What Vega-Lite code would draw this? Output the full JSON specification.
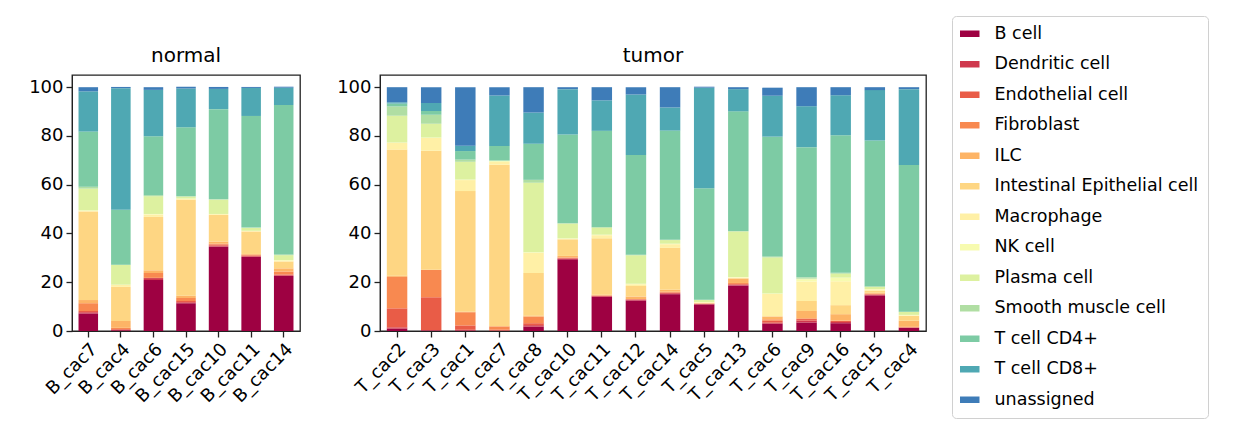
{
"$schema":"https://vega.github.io/schema/vega-lite/v6.json",
"background":"white",
"padding":{"left":27,"top":15,"right":0,"bottom":0},
"config":{"font":"DejaVu Sans","view":{"stroke":"#222","strokeWidth":1.3},
"axis":{"labelFont":"DejaVu Sans","labelFontSize":18,"labelColor":"#000","domainColor":"#222","tickColor":"#222","tickSize":6,"tickWidth":1.3,"labelPadding":3,"grid":false,"title":null},
"title":{"fontSize":20,"fontWeight":"normal","font":"DejaVu Sans","offset":9,"color":"#000"},
"concat":{"spacing":34}},
"datasets":{"d":[
{"s":"B_cac7","g":"normal","B cell":7.2,"Dendritic cell":0.5,"Endothelial cell":0.5,"Fibroblast":3.2,"ILC":1.3,"Intestinal Epithelial cell":36.3,"Macrophage":0.3,"NK cell":0.2,"Plasma cell":8.9,"Smooth muscle cell":0.8,"T cell CD4+":22.6,"T cell CD8+":16.5,"unassigned":1.7},
{"s":"B_cac4","g":"normal","B cell":0.3,"Dendritic cell":0.2,"Endothelial cell":0.3,"Fibroblast":0.5,"ILC":2.8,"Intestinal Epithelial cell":14,"Macrophage":0.9,"NK cell":0,"Plasma cell":8.1,"Smooth muscle cell":0.1,"T cell CD4+":22.5,"T cell CD8+":49.9,"unassigned":0.5},
{"s":"B_cac6","g":"normal","B cell":20.9,"Dendritic cell":0.8,"Endothelial cell":0.1,"Fibroblast":2.0,"ILC":1.1,"Intestinal Epithelial cell":21.9,"Macrophage":1.0,"NK cell":0.2,"Plasma cell":7.3,"Smooth muscle cell":0.4,"T cell CD4+":24.2,"T cell CD8+":19,"unassigned":1.1},
{"s":"B_cac15","g":"normal","B cell":11.4,"Dendritic cell":0.4,"Endothelial cell":0.5,"Fibroblast":1.2,"ILC":1.0,"Intestinal Epithelial cell":39.3,"Macrophage":0.3,"NK cell":0.2,"Plasma cell":0.9,"Smooth muscle cell":0.1,"T cell CD4+":28.3,"T cell CD8+":15.9,"unassigned":0.7},
{"s":"B_cac10","g":"normal","B cell":34.6,"Dendritic cell":0.4,"Endothelial cell":0.5,"Fibroblast":0.3,"ILC":0.9,"Intestinal Epithelial cell":10.9,"Macrophage":0.3,"NK cell":0.1,"Plasma cell":5.9,"Smooth muscle cell":0.1,"T cell CD4+":37,"T cell CD8+":8.3,"unassigned":0.8},
{"s":"B_cac11","g":"normal","B cell":30.4,"Dendritic cell":0.3,"Endothelial cell":0.3,"Fibroblast":0.3,"ILC":0.3,"Intestinal Epithelial cell":9.2,"Macrophage":0.2,"NK cell":0.1,"Plasma cell":1.2,"Smooth muscle cell":0.1,"T cell CD4+":45.8,"T cell CD8+":11.5,"unassigned":0.4},
{"s":"B_cac14","g":"normal","B cell":22.6,"Dendritic cell":0.3,"Endothelial cell":0.3,"Fibroblast":1.2,"ILC":1.3,"Intestinal Epithelial cell":2.8,"Macrophage":0.4,"NK cell":0.2,"Plasma cell":2.0,"Smooth muscle cell":0.3,"T cell CD4+":61.3,"T cell CD8+":7.1,"unassigned":0.4},
{"s":"T_cac2","g":"tumor","B cell":1.0,"Dendritic cell":0.5,"Endothelial cell":7.8,"Fibroblast":12.9,"ILC":0.5,"Intestinal Epithelial cell":51.7,"Macrophage":2.8,"NK cell":0.1,"Plasma cell":11,"Smooth muscle cell":3.8,"T cell CD4+":1.2,"T cell CD8+":0.5,"unassigned":6.2},
{"s":"T_cac3","g":"tumor","B cell":0.2,"Dendritic cell":0.2,"Endothelial cell":13.4,"Fibroblast":11.2,"ILC":0.1,"Intestinal Epithelial cell":48.8,"Macrophage":5.3,"NK cell":0.2,"Plasma cell":5.6,"Smooth muscle cell":3.7,"T cell CD4+":1.5,"T cell CD8+":3.3,"unassigned":6.5},
{"s":"T_cac1","g":"tumor","B cell":0.2,"Dendritic cell":0.3,"Endothelial cell":1.8,"Fibroblast":5.4,"ILC":0.2,"Intestinal Epithelial cell":49.5,"Macrophage":4.5,"NK cell":0.2,"Plasma cell":7.3,"Smooth muscle cell":0.9,"T cell CD4+":3.5,"T cell CD8+":2.2,"unassigned":24},
{"s":"T_cac7","g":"tumor","B cell":0.1,"Dendritic cell":0.1,"Endothelial cell":0.3,"Fibroblast":1.3,"ILC":0.3,"Intestinal Epithelial cell":66.1,"Macrophage":1.1,"NK cell":0.3,"Plasma cell":0.2,"Smooth muscle cell":0.1,"T cell CD4+":6.0,"T cell CD8+":20.7,"unassigned":3.4},
{"s":"T_cac8","g":"tumor","B cell":1.8,"Dendritic cell":0.6,"Endothelial cell":0.8,"Fibroblast":2.7,"ILC":0.4,"Intestinal Epithelial cell":17.5,"Macrophage":8.3,"NK cell":0.2,"Plasma cell":28.5,"Smooth muscle cell":1.2,"T cell CD4+":14.8,"T cell CD8+":12.8,"unassigned":10.4},
{"s":"T_cac10","g":"tumor","B cell":29.4,"Dendritic cell":0.3,"Endothelial cell":0.3,"Fibroblast":0.2,"ILC":0.6,"Intestinal Epithelial cell":6.8,"Macrophage":0.2,"NK cell":0.2,"Plasma cell":6.1,"Smooth muscle cell":0.1,"T cell CD4+":36.4,"T cell CD8+":18.6,"unassigned":0.8},
{"s":"T_cac11","g":"tumor","B cell":14.0,"Dendritic cell":0.3,"Endothelial cell":0.2,"Fibroblast":0.1,"ILC":0.3,"Intestinal Epithelial cell":23.1,"Macrophage":1.3,"NK cell":0.2,"Plasma cell":3.0,"Smooth muscle cell":0.1,"T cell CD4+":39.5,"T cell CD8+":12.5,"unassigned":5.4},
{"s":"T_cac12","g":"tumor","B cell":12.5,"Dendritic cell":0.3,"Endothelial cell":0.2,"Fibroblast":0.1,"ILC":1.1,"Intestinal Epithelial cell":4.3,"Macrophage":0.7,"NK cell":0.2,"Plasma cell":11.7,"Smooth muscle cell":0.2,"T cell CD4+":40.9,"T cell CD8+":24.8,"unassigned":3.0},
{"s":"T_cac14","g":"tumor","B cell":15.1,"Dendritic cell":0.4,"Endothelial cell":0.3,"Fibroblast":0.3,"ILC":0.8,"Intestinal Epithelial cell":17.2,"Macrophage":1.5,"NK cell":0.2,"Plasma cell":1.5,"Smooth muscle cell":0.1,"T cell CD4+":44.8,"T cell CD8+":9.5,"unassigned":8.3},
{"s":"T_cac5","g":"tumor","B cell":10.9,"Dendritic cell":0.2,"Endothelial cell":0.1,"Fibroblast":0.1,"ILC":0.1,"Intestinal Epithelial cell":0.2,"Macrophage":0.2,"NK cell":0.1,"Plasma cell":0.8,"Smooth muscle cell":0.1,"T cell CD4+":45.8,"T cell CD8+":41.2,"unassigned":0.4},
{"s":"T_cac13","g":"tumor","B cell":18.7,"Dendritic cell":0.3,"Endothelial cell":0.3,"Fibroblast":0.4,"ILC":1.8,"Intestinal Epithelial cell":0.2,"Macrophage":0.2,"NK cell":0.2,"Plasma cell":18.7,"Smooth muscle cell":0.2,"T cell CD4+":49.1,"T cell CD8+":9.1,"unassigned":0.8},
{"s":"T_cac6","g":"tumor","B cell":3.0,"Dendritic cell":0.4,"Endothelial cell":0.8,"Fibroblast":0.6,"ILC":1.1,"Intestinal Epithelial cell":0.2,"Macrophage":9.1,"NK cell":0.2,"Plasma cell":14.8,"Smooth muscle cell":0.4,"T cell CD4+":49.1,"T cell CD8+":16.8,"unassigned":3.3},
{"s":"T_cac9","g":"tumor","B cell":3.5,"Dendritic cell":0.8,"Endothelial cell":0.6,"Fibroblast":0.3,"ILC":3.0,"Intestinal Epithelial cell":4.1,"Macrophage":8.0,"NK cell":0.9,"Plasma cell":0.3,"Smooth muscle cell":0.5,"T cell CD4+":53.4,"T cell CD8+":16.8,"unassigned":7.8},
{"s":"T_cac16","g":"tumor","B cell":3.2,"Dendritic cell":0.5,"Endothelial cell":0.4,"Fibroblast":0.2,"ILC":2.6,"Intestinal Epithelial cell":3.7,"Macrophage":9.8,"NK cell":1.5,"Plasma cell":1.6,"Smooth muscle cell":0.4,"T cell CD4+":56.4,"T cell CD8+":16.4,"unassigned":3.3},
{"s":"T_cac15","g":"tumor","B cell":14.6,"Dendritic cell":0.3,"Endothelial cell":0.2,"Fibroblast":0.2,"ILC":0.4,"Intestinal Epithelial cell":0.8,"Macrophage":0.5,"NK cell":0.2,"Plasma cell":1.0,"Smooth muscle cell":0.1,"T cell CD4+":59.8,"T cell CD8+":20.7,"unassigned":1.2},
{"s":"T_cac4","g":"tumor","B cell":1.3,"Dendritic cell":0.1,"Endothelial cell":0.1,"Fibroblast":0.2,"ILC":2.5,"Intestinal Epithelial cell":2.0,"Macrophage":0.2,"NK cell":0.2,"Plasma cell":1.2,"Smooth muscle cell":0.1,"T cell CD4+":60.2,"T cell CD8+":31.1,"unassigned":0.8}
]},
"data":{"name":"d"},
"transform":[{"fold":["B cell","Dendritic cell","Endothelial cell","Fibroblast","ILC","Intestinal Epithelial cell","Macrophage","NK cell","Plasma cell","Smooth muscle cell","T cell CD4+","T cell CD8+","unassigned"],"as":["cell","pct"]}],
"resolve":{"scale":{"color":"shared","y":"shared"}},
"hconcat":[
{"title":"normal","width":228,"height":256,"transform":[{"filter":"datum.g==='normal'"}],
"mark":{"type":"bar"},
"encoding":{
"x":{"field":"s","type":"nominal","sort":null,"scale":{"paddingInner":0.4,"paddingOuter":0.2},"axis":{"labelAngle":-45,"labelAlign":"right","labelBaseline":"top"}},
"y":{"field":"pct","type":"quantitative","stack":"zero","scale":{"domain":[0,105],"nice":false},"axis":{"values":[0,20,40,60,80,100]}},
"color":{"field":"cell","type":"nominal","scale":{"domain":["B cell","Dendritic cell","Endothelial cell","Fibroblast","ILC","Intestinal Epithelial cell","Macrophage","NK cell","Plasma cell","Smooth muscle cell","T cell CD4+","T cell CD8+","unassigned"],"range":["#9e0142","#cf384d","#e95c47","#f88950","#fdb466","#fed683","#fff0a6","#f7fbb0","#ddf1a0","#b0dea3","#7dcba4","#4fa8b3","#3e7cb8"]},
"legend":{"title":null,"symbolType":"M-1.5,-0.5H1.5V0.5H-1.5Z","symbolSize":169,"symbolStrokeWidth":0,"labelFontSize":17.5,"labelLimit":400,"labelFont":"DejaVu Sans","labelColor":"#000","labelOffset":16,"rowPadding":11.5,"strokeColor":"#d0d0d0","padding":9,"cornerRadius":4,"orient":"none","legendX":880,"legendY":-59}},
"order":{"field":"cell","sort":"ascending"}}},
{"title":"tumor","width":546,"height":256,"transform":[{"filter":"datum.g==='tumor'"}],
"mark":{"type":"bar"},
"encoding":{
"x":{"field":"s","type":"nominal","sort":null,"scale":{"paddingInner":0.4,"paddingOuter":0.2},"axis":{"labelAngle":-45,"labelAlign":"right","labelBaseline":"top"}},
"y":{"field":"pct","type":"quantitative","stack":"zero","scale":{"domain":[0,105],"nice":false},"axis":{"values":[0,20,40,60,80,100]}},
"color":{"field":"cell","type":"nominal"},
"order":{"field":"cell","sort":"ascending"}}}
]
}
